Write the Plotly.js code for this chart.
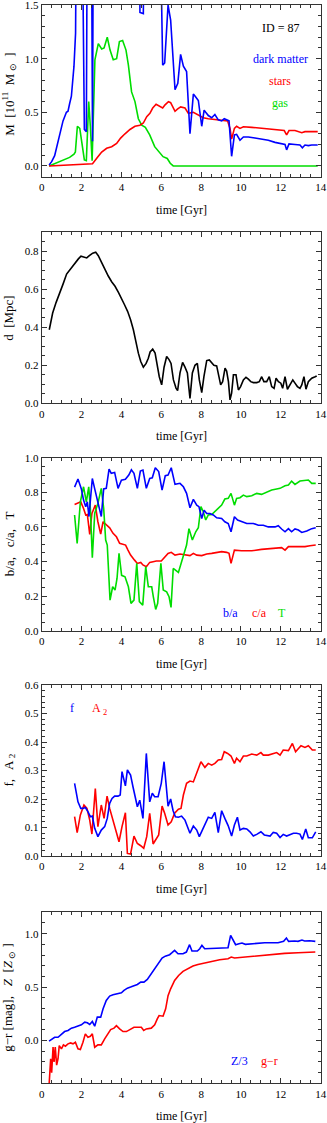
<!DOCTYPE html>
<html>
<head>
<meta charset="utf-8">
<script src="https://cdn.plot.ly/plotly-3.0.1.min.js"></script>
<style>html,body{margin:0;padding:0;background:#fff;}#chart{width:327px;height:1123px;}</style>
</head>
<body>
<div id="chart"></div>
<script>
// ---------- Panel 1: mass (10^11 Msun); values above 1.5 run off the top of the frame
const t_dm = [0.37,0.50,0.65,0.82,0.90,1.07,1.24,1.32,1.40,1.49,1.62,1.70,1.76,2.00,2.14,2.24,2.30,2.48,2.55,2.60,4.88,4.93,5.10,5.15,5.88,6.07,6.17,6.34,6.47,6.69,6.83,6.97,7.11,7.27,7.44,7.61,7.70,7.86,8.03,8.15,8.23,8.36,8.53,8.69,8.86,9.03,9.16,9.33,9.40,9.53,9.67,9.78,9.95,10.12,10.37,10.70,11.03,11.37,11.71,12.04,12.21,12.29,12.41,12.71,12.96,13.08,13.21,13.38,13.55,13.85];
const M_dm = [0.01,0.04,0.096,0.24,0.30,0.42,0.50,0.51,0.58,0.65,0.93,1.24,3,3,0.34,0.32,3,3,0.23,3,3,1.43,1.42,3,3,0.94,0.96,1.50,1.36,0.71,0.77,1.04,0.93,0.88,0.30,0.67,0.65,0.61,0.37,0.52,0.50,0.47,0.45,0.48,0.43,0.42,0.44,0.43,0.42,0.09,0.29,0.295,0.24,0.27,0.27,0.26,0.25,0.24,0.22,0.21,0.20,0.15,0.205,0.20,0.195,0.17,0.195,0.19,0.195,0.195];
const t_st = [0.37,1.20,2.00,2.55,2.84,3.01,3.26,3.51,3.76,3.96,4.18,4.43,4.68,4.93,5.10,5.27,5.43,5.57,5.74,5.90,6.07,6.19,6.36,6.47,6.69,6.81,6.97,7.19,7.36,7.61,7.86,8.11,8.36,8.69,9.03,9.33,9.45,9.53,9.67,9.78,9.95,10.12,10.54,11.03,11.54,12.04,12.17,12.29,12.41,12.71,13.05,13.21,13.71,13.85];
const M_st = [0.0,0.005,0.01,0.02,0.09,0.13,0.165,0.18,0.21,0.26,0.30,0.34,0.37,0.38,0.40,0.46,0.49,0.54,0.575,0.56,0.54,0.57,0.60,0.59,0.51,0.53,0.55,0.54,0.49,0.50,0.475,0.45,0.44,0.435,0.43,0.42,0.35,0.25,0.35,0.37,0.35,0.365,0.36,0.35,0.34,0.335,0.33,0.29,0.33,0.33,0.31,0.32,0.32,0.32];
const t_gas = [0.37,0.65,0.90,1.15,1.40,1.62,1.69,1.79,1.91,2.02,2.14,2.24,2.36,2.44,2.53,2.67,2.84,3.01,3.13,3.29,3.43,3.59,3.76,3.90,4.06,4.23,4.35,4.51,4.68,4.85,5.02,5.20,5.42,5.67,5.92,6.09,6.30,6.45,6.60,8.00,10.00,12.00,13.85];
const M_gas = [0.0,0.02,0.04,0.056,0.08,0.11,0.13,0.37,0.35,0.21,0.056,0.05,0.60,0.37,0.05,0.99,1.14,1.09,1.10,1.20,1.08,0.99,1.00,1.16,1.17,1.08,0.94,0.69,0.60,0.44,0.38,0.36,0.29,0.18,0.12,0.087,0.07,0.025,0.0,0.0,0.0,0.0,0.0];

// ---------- Panel 2: distance (Mpc)
const t_d = [0.38,0.55,0.72,0.88,1.08,1.25,1.39,1.50,1.67,1.84,1.97,2.09,2.26,2.39,2.56,2.71,2.84,3.01,3.18,3.34,3.51,3.68,3.85,4.01,4.15,4.31,4.46,4.60,4.73,4.85,4.97,5.10,5.24,5.35,5.44,5.57,5.69,5.77,5.90,6.02,6.14,6.27,6.39,6.49,6.61,6.74,6.82,6.94,7.07,7.19,7.31,7.44,7.56,7.69,7.81,7.91,8.03,8.14,8.28,8.41,8.53,8.64,8.78,8.86,8.98,9.08,9.20,9.28,9.37,9.45,9.53,9.62,9.75,9.87,9.98,10.12,10.25,10.37,10.49,10.62,10.79,10.92,11.04,11.15,11.29,11.42,11.54,11.66,11.76,11.88,12.00,12.09,12.21,12.33,12.46,12.60,12.71,12.83,12.96,13.05,13.16,13.26,13.38,13.55,13.72,13.80];
const d_val = [0.387,0.475,0.53,0.57,0.63,0.68,0.70,0.71,0.74,0.76,0.774,0.77,0.765,0.777,0.79,0.795,0.777,0.74,0.70,0.67,0.64,0.616,0.584,0.545,0.52,0.484,0.44,0.387,0.317,0.264,0.22,0.19,0.21,0.237,0.27,0.285,0.264,0.21,0.14,0.097,0.19,0.246,0.23,0.21,0.123,0.08,0.067,0.16,0.215,0.19,0.16,0.026,0.16,0.20,0.21,0.123,0.056,0.14,0.225,0.228,0.215,0.20,0.197,0.15,0.097,0.114,0.185,0.17,0.114,0.018,0.053,0.15,0.15,0.07,0.088,0.123,0.137,0.127,0.114,0.109,0.109,0.114,0.14,0.114,0.114,0.14,0.088,0.079,0.132,0.114,0.106,0.079,0.14,0.074,0.10,0.123,0.106,0.088,0.079,0.097,0.14,0.074,0.114,0.132,0.14,0.144];

// ---------- Panel 3: b/a, c/a, T
const t_ba = [1.65,1.82,1.99,2.10,2.21,2.29,2.37,2.54,2.66,2.82,2.99,3.11,3.24,3.38,3.49,3.66,3.83,4.00,4.20,4.37,4.50,4.63,4.80,4.95,5.08,5.25,5.42,5.55,5.70,5.87,6.04,6.20,6.34,6.50,6.69,6.94,7.11,7.27,7.44,7.61,7.78,7.89,8.03,8.15,8.28,8.44,8.61,8.78,9.03,9.19,9.36,9.50,9.67,9.83,10.03,10.29,10.62,10.87,11.12,11.37,11.71,11.87,12.04,12.21,12.38,12.54,12.71,12.88,13.05,13.30,13.55,13.75];
const ba = [0.83,0.877,0.82,0.755,0.717,0.745,0.66,0.88,0.82,0.745,0.66,0.82,0.823,0.934,0.91,0.915,0.823,0.87,0.875,0.90,0.93,0.91,0.823,0.923,0.929,0.823,0.88,0.884,0.942,0.92,0.813,0.896,0.90,0.942,0.846,0.852,0.832,0.794,0.711,0.759,0.726,0.717,0.649,0.697,0.678,0.678,0.669,0.653,0.649,0.630,0.62,0.572,0.659,0.64,0.63,0.62,0.62,0.61,0.61,0.60,0.60,0.607,0.588,0.572,0.59,0.572,0.588,0.582,0.568,0.576,0.59,0.595];
const t_ca = [1.65,1.82,1.96,2.10,2.21,2.29,2.41,2.52,2.69,2.82,2.96,3.08,3.24,3.41,3.58,3.75,3.91,4.08,4.21,4.33,4.46,4.66,4.80,4.97,5.08,5.25,5.42,5.59,5.75,6.00,6.17,6.34,6.50,6.69,6.94,7.19,7.44,7.61,7.78,8.03,8.28,8.53,8.78,9.03,9.28,9.40,9.50,9.67,10.03,10.54,11.03,11.54,12.04,12.21,12.38,12.88,13.21,13.46,13.75];
const ca = [0.73,0.736,0.745,0.707,0.669,0.672,0.557,0.678,0.726,0.63,0.559,0.63,0.611,0.595,0.563,0.543,0.505,0.50,0.495,0.466,0.437,0.408,0.389,0.395,0.38,0.37,0.395,0.399,0.403,0.403,0.428,0.447,0.453,0.437,0.443,0.437,0.434,0.447,0.437,0.434,0.443,0.447,0.451,0.457,0.453,0.447,0.389,0.466,0.462,0.462,0.47,0.476,0.48,0.466,0.486,0.486,0.486,0.491,0.495];
const t_T = [1.65,1.78,1.94,2.10,2.24,2.36,2.44,2.54,2.66,2.82,2.99,3.11,3.21,3.29,3.43,3.56,3.68,3.78,3.88,4.01,4.18,4.35,4.48,4.63,4.77,4.90,5.07,5.22,5.35,5.52,5.60,5.72,5.82,5.98,6.10,6.27,6.39,6.49,6.60,6.77,6.86,7.02,7.19,7.27,7.39,7.56,7.73,7.86,7.99,8.11,8.23,8.36,8.53,8.69,8.86,9.03,9.19,9.36,9.50,9.67,9.78,9.95,10.12,10.29,10.54,10.79,11.03,11.29,11.54,11.79,11.96,12.21,12.38,12.54,12.71,12.96,13.21,13.38,13.55,13.75];
const T_val = [0.669,0.505,0.745,0.832,0.745,0.832,0.707,0.422,0.678,0.736,0.823,0.707,0.524,0.495,0.177,0.254,0.235,0.302,0.447,0.32,0.312,0.254,0.158,0.177,0.389,0.168,0.148,0.37,0.254,0.254,0.197,0.123,0.158,0.389,0.235,0.225,0.197,0.135,0.36,0.345,0.337,0.399,0.457,0.495,0.59,0.524,0.572,0.595,0.717,0.688,0.64,0.669,0.672,0.688,0.707,0.726,0.761,0.765,0.794,0.726,0.765,0.769,0.784,0.775,0.78,0.794,0.788,0.80,0.813,0.819,0.823,0.838,0.842,0.865,0.846,0.865,0.871,0.871,0.852,0.852];

// ---------- Panel 4: f, A2
const t_f = [1.65,1.82,1.96,2.07,2.19,2.32,2.44,2.54,2.66,2.82,2.99,3.16,3.29,3.41,3.53,3.66,3.83,3.94,4.03,4.20,4.30,4.46,4.58,4.70,4.80,4.92,5.08,5.25,5.42,5.55,5.67,5.84,6.00,6.14,6.34,6.47,6.59,6.71,6.86,7.02,7.19,7.44,7.61,7.78,7.91,8.06,8.23,8.36,8.53,8.69,8.86,9.03,9.19,9.36,9.53,9.67,9.82,9.95,10.12,10.29,10.45,10.62,10.79,11.00,11.17,11.46,11.62,11.79,11.96,12.12,12.29,12.46,12.63,12.79,12.96,13.08,13.25,13.38,13.58,13.75];
const f_val = [0.255,0.19,0.167,0.167,0.17,0.156,0.138,0.14,0.097,0.068,0.091,0.103,0.132,0.185,0.202,0.21,0.21,0.214,0.296,0.246,0.302,0.284,0.243,0.208,0.173,0.196,0.132,0.36,0.19,0.22,0.208,0.208,0.255,0.331,0.175,0.20,0.16,0.138,0.136,0.14,0.126,0.08,0.105,0.091,0.068,0.091,0.115,0.136,0.132,0.153,0.082,0.159,0.132,0.106,0.07,0.109,0.136,0.091,0.097,0.095,0.085,0.07,0.076,0.085,0.074,0.07,0.083,0.08,0.065,0.076,0.07,0.074,0.08,0.08,0.077,0.058,0.095,0.064,0.064,0.085];
const t_A2 = [1.65,1.78,1.94,2.12,2.27,2.41,2.52,2.69,2.82,2.99,3.13,3.28,3.41,3.58,3.75,3.88,4.03,4.20,4.30,4.46,4.63,4.80,4.97,5.12,5.27,5.42,5.59,5.75,5.87,6.04,6.17,6.34,6.50,6.67,6.86,6.99,7.11,7.27,7.44,7.61,7.78,7.99,8.19,8.36,8.53,8.69,8.86,9.03,9.16,9.33,9.50,9.67,9.78,9.95,10.12,10.29,10.54,10.79,11.00,11.12,11.37,11.62,11.79,11.96,12.12,12.38,12.58,12.74,13.01,13.21,13.38,13.58,13.75];
const A2_val = [0.138,0.082,0.144,0.179,0.167,0.126,0.077,0.237,0.103,0.179,0.132,0.21,0.167,0.126,0.08,0.05,0.103,0.152,0.009,0.007,0.07,0.044,0.036,0.027,0.068,0.15,0.042,0.062,0.074,0.175,0.15,0.109,0.12,0.15,0.164,0.167,0.214,0.255,0.263,0.26,0.29,0.331,0.311,0.325,0.319,0.325,0.337,0.339,0.366,0.36,0.351,0.325,0.343,0.331,0.351,0.351,0.358,0.354,0.363,0.354,0.354,0.358,0.363,0.354,0.372,0.37,0.395,0.366,0.387,0.381,0.387,0.372,0.372];

// ---------- Panel 5: Z/3 and g-r
const t_Z = [0.37,0.52,0.65,0.82,0.99,1.15,1.32,1.49,1.65,1.82,1.99,2.16,2.29,2.41,2.54,2.66,2.79,2.96,3.08,3.24,3.41,3.58,3.83,4.00,4.13,4.30,4.46,4.63,4.80,4.97,5.13,5.30,5.50,5.67,5.84,6.04,6.20,6.42,6.54,6.67,6.84,7.09,7.26,7.42,7.54,7.81,7.93,8.04,8.18,8.68,9.10,9.35,9.48,9.60,9.73,9.90,10.05,10.22,10.60,11.19,11.86,12.14,12.28,12.39,12.69,12.86,13.06,13.19,13.44,13.73];
const Z3 = [-0.006,0.016,0.031,0.031,0.0625,0.084,0.094,0.116,0.125,0.134,0.147,0.172,0.166,0.15,0.178,0.134,0.219,0.219,0.297,0.375,0.416,0.428,0.4375,0.447,0.469,0.49,0.50,0.51,0.525,0.547,0.547,0.572,0.625,0.666,0.72,0.772,0.79,0.803,0.822,0.844,0.8125,0.8125,0.828,0.897,0.8375,0.8375,0.859,0.89,0.859,0.866,0.866,0.869,0.984,0.9375,0.897,0.906,0.9125,0.90,0.906,0.9156,0.9156,0.928,0.959,0.928,0.931,0.928,0.94,0.931,0.934,0.928];
const t_gr = [0.37,0.45,0.50,0.57,0.62,0.68,0.75,0.82,0.88,0.99,1.09,1.19,1.32,1.45,1.57,1.69,1.82,1.94,2.07,2.19,2.32,2.44,2.54,2.66,2.82,2.99,3.16,3.33,3.46,3.63,3.75,3.91,4.08,4.25,4.41,4.63,4.83,5.00,5.12,5.25,5.50,5.67,5.80,5.89,6.09,6.22,6.34,6.47,6.67,6.87,7.09,7.34,7.59,7.84,8.18,8.51,8.93,9.35,9.51,9.68,10.18,10.85,11.52,12.19,12.86,13.73];
const gr = [-0.42,-0.17,-0.30,-0.06,-0.20,-0.06,-0.23,-0.17,-0.047,-0.078,-0.04,-0.053,-0.031,-0.022,-0.031,-0.016,-0.078,-0.084,-0.016,0.0625,0.031,0.04,0.0625,-0.0625,-0.04,-0.04,0.016,0.0625,0.103,0.116,0.14,0.109,0.084,0.084,0.10,0.125,0.125,0.125,0.094,0.109,0.116,0.147,0.203,0.234,0.228,0.297,0.42,0.484,0.5625,0.609,0.647,0.672,0.697,0.7125,0.728,0.744,0.756,0.766,0.781,0.772,0.781,0.79,0.803,0.816,0.822,0.828];

// ---------- labels
const xTitle = "time [Gyr]";
const yTitles = ["M  [10<sup>11</sup>  M<sub> ⊙</sub>  ]", "d  [Mpc]", "b/a,   c/a,   T", "f,   A<sub> 2</sub>", "g−r [mag],   <i>Z</i>  [<i>Z</i><sub> ⊙</sub> ]"];

const BLUE = "#0000ff", RED = "#ff0000", GREEN = "#00dd00", BLACK = "#000000";
const FONT = "Liberation Serif, Times New Roman, serif";
const W = 327, H = 1123;
const frame = "#333333";

// panel frames in pixels: [top, bottom]
const boxes = [[5,176.7],[232.3,403.3],[457.7,630.7],[685,856],[912.3,1083.3]];
const xdom = [41.7/W, 320.7/W];
const yRanges = [[-0.1,1.5002],[0,0.9],[0,1.0002],[0,0.6002],[-0.4,1.2]];
const yDticks = [0.5,0.2,0.2,0.1,0.5];
const yMinor = [0.1,0.05,0.05,0.02,0.1];

function line(x, y, color, i) {
  return {x: x, y: y, type: "scatter", mode: "lines", xaxis: "x" + (i === 1 ? "" : i), yaxis: "y" + (i === 1 ? "" : i),
          line: {color: color, width: 1.6}, hoverinfo: "skip"};
}
const data = [
  line(t_gas, M_gas, GREEN, 1), line(t_st, M_st, RED, 1), line(t_dm, M_dm, BLUE, 1),
  line(t_d, d_val, BLACK, 2),
  line(t_ca, ca, RED, 3), line(t_T, T_val, GREEN, 3), line(t_ba, ba, BLUE, 3),
  line(t_A2, A2_val, RED, 4), line(t_f, f_val, BLUE, 4),
  line(t_gr, gr, RED, 5), line(t_Z, Z3, BLUE, 5)
];

const layout = {width: W, height: H, margin: {l: 0, r: 0, t: 0, b: 0}, showlegend: false,
  paper_bgcolor: "#fff", plot_bgcolor: "#fff", font: {family: FONT, color: "#000", size: 11}, annotations: []};

function P(px) { return 1 - px / H; }
function ann(text, xpx, ypx, color, size, angle) {
  layout.annotations.push({text: text, xref: "paper", yref: "paper", x: xpx / W, y: P(ypx), xanchor: "center", yanchor: "middle",
    showarrow: false, textangle: angle || 0, font: {family: FONT, size: size || 12, color: color || "#000"}});
}

for (let i = 0; i < 5; i++) {
  const k = i + 1, s = k === 1 ? "" : k;
  const common = {ticks: "inside", ticklen: 5, tickwidth: 1, tickcolor: frame, showline: true, linecolor: frame, linewidth: 1,
    mirror: "ticks", showgrid: false, zeroline: false, ticklabeloverflow: "allow",
    tickfont: {family: FONT, size: 11, color: "#000"}};
  layout["xaxis" + s] = Object.assign({}, common, {domain: xdom, range: [0, 14], anchor: "y" + s, tick0: 0, dtick: 2,
    minor: {ticks: "inside", ticklen: 3, tickcolor: frame, dtick: 0.5, tick0: 0, showgrid: false}});
  layout["yaxis" + s] = Object.assign({}, common, {domain: [P(boxes[i][1]), P(boxes[i][0])], range: yRanges[i], anchor: "x" + s,
    tick0: 0, dtick: yDticks[i], tickformat: ".1f",
    minor: {ticks: "inside", ticklen: 3, tickcolor: frame, dtick: yMinor[i], tick0: 0, showgrid: false}});
  ann(xTitle, 181, boxes[i][1] + 33, "#000", 12);
  ann(yTitles[i], 9, (boxes[i][0] + boxes[i][1]) / 2 + (i === 0 ? 4 : 0), "#000", 13, -90);
}

// in-plot labels
ann("ID = 87", 280, 28, "#000", 12);
ann("dark matter", 280, 59, BLUE, 12);
ann("stars", 280, 81, RED, 12);
ann("gas", 280, 103, GREEN, 12);
ann("b/a", 230, 613, BLUE, 12);
ann("c/a", 259, 613, RED, 12);
ann("T", 282, 613, GREEN, 12);
ann("f", 72, 708, BLUE, 12);
ann("A <sub>2</sub>", 99, 709, RED, 12);
ann("Z/3", 239, 1061, BLUE, 12);
ann("g−r", 269, 1061, RED, 12);

Plotly.newPlot("chart", data, layout, {staticPlot: true, displayModeBar: false});
</script>
</body>
</html>
